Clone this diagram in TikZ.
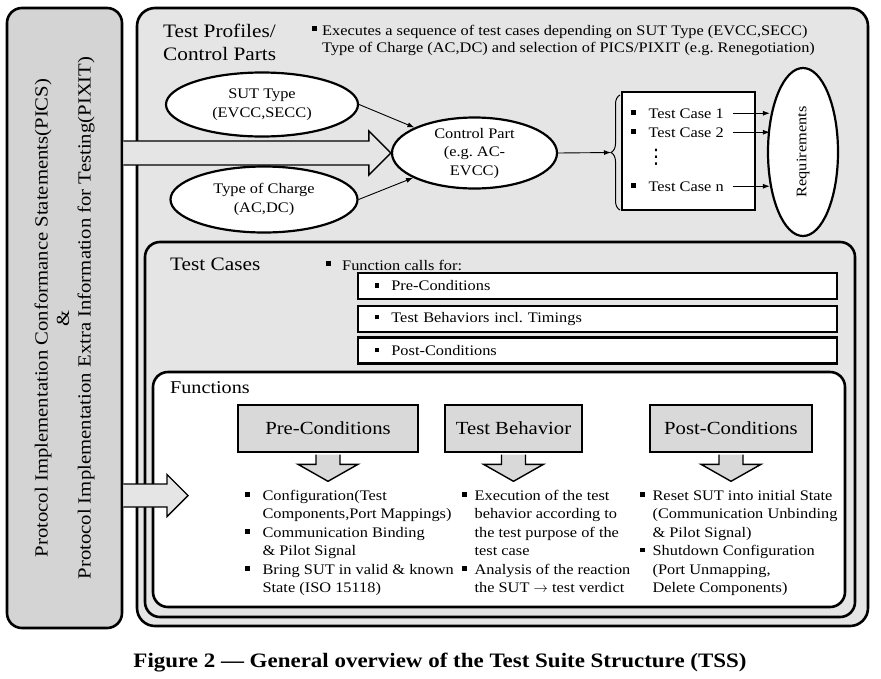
\documentclass[tikz,border=0pt]{standalone}
\usepackage{fontspec}
\setmainfont{Liberation Serif}[FakeStretch=1.12]
\newfontfamily\dejavu{DejaVu Sans}
\usetikzlibrary{shapes.geometric,arrows.meta,decorations.pathreplacing,calc}
\newcommand\sqb{\rule[0.22em]{0.3em}{0.3em}}
\newcommand\fs[2]{\fontsize{#1}{#2}\selectfont}
\begin{document}
\frenchspacing
\begin{tikzpicture}[x=1pt,y=-1pt,
  stip/.style={fill=black!10},
  stipd/.style={fill=black!17},
  stiph/.style={fill=black!15},
  bigbox/.style={draw, line width=2.6pt, rounded corners=18pt, inner sep=0pt},
  ell/.style={ellipse, draw, line width=2.2pt, fill=white, inner sep=0pt},
  etxt/.style={align=center, inner sep=0pt, font=\fs{14.6}{18.5}},
  conn/.style={-{Latex[length=7pt,width=5pt]}, line width=0.9pt},
  txt/.style={inner sep=0pt, anchor=base west, font=\fs{14.6}{18.5}},
  head/.style={inner sep=0pt, anchor=base west, font=\fs{19}{23}},
  callbox/.style={draw, line width=2.6pt, fill=white, minimum height=26pt, text width=445pt, inner xsep=17pt, inner ysep=0pt, align=left, font=\fs{14.6}{18}},
  hdr/.style={draw, line width=2.6pt, stiph, minimum height=47pt, inner sep=0pt, font=\fs{18.5}{20}},
  blockarrow/.style={draw, line width=1.4pt, line join=miter},
]
\fill[white] (0,0) rectangle (881,678);
\useasboundingbox (0,0) rectangle (881,678);

% containers
\node[bigbox, stipd, minimum width=115pt, minimum height=620pt, rounded corners=15pt] (pics) at (64.5,318) {};
\node[bigbox, stip, minimum width=731pt, minimum height=618pt] (tp) at (502.5,317) {};
\node[bigbox, stip, minimum width=710pt, minimum height=375pt, rounded corners=15pt] (tcs) at (500,429.5) {};
\node[bigbox, fill=white, minimum width=692pt, minimum height=235pt, rounded corners=15pt] (fun) at (499,489.5) {};

\node[font=\fs{18.5}{21.5}, align=center, rotate=90, inner sep=0pt] (picst) at (pics.center)
  {Protocol Implementation Conformance Statements(PICS)\\\&\\Protocol Implementation Extra Information for Testing(PIXIT)};

% top part
\node[head] (tp1) at (163,37) {Test Profiles/};
\node[head] (tp2) at (163,60) {Control Parts};
\node[txt] (exb) at (312,34) {\sqb};
\node[txt] (ex1) at (322,35) {Executes a sequence of test cases depending on SUT Type (EVCC,SECC)};
\node[txt] (ex2) at (322,52) {Type of Charge (AC,DC) and selection of PICS/PIXIT (e.g. Renegotiation)};

\node[ell, minimum width=192pt, minimum height=64pt] (sut) at (262,104.5) {};
\node[etxt] (sutt) at (sut.center) {SUT Type\\(EVCC,SECC)};
\node[ell, minimum width=187pt, minimum height=66pt] (toc) at (264,199.5) {};
\node[etxt] (toct) at (toc.center) {Type of Charge\\(AC,DC)};
\node[ell, minimum width=165pt, minimum height=71pt] (cp) at (474.5,153) {};
\node[etxt] (cpt) at (cp.center) {Control Part\\(e.g. AC-\\EVCC)};

% big arrow PICS -> Control Part
\coordinate (a1tip) at (cp.west);
\filldraw[blockarrow, stip] ($(pics.east |- a1tip)+(0,-12)$) -- ($(a1tip)+(-22,-12)$) -- ($(a1tip)+(-22,-22)$) -- (a1tip)
  -- ($(a1tip)+(-22,22)$) -- ($(a1tip)+(-22,12)$) -- ($(pics.east |- a1tip)+(0,12)$);

\draw[conn] (sut.east) -- (cp.157);
\draw[conn] (toc.east) -- (cp.202);

% brace and test case list
\coordinate (bt) at (611,152.5);
\draw[conn] (cp.east) -- (bt);
\draw[line width=1pt, decorate, decoration={brace, amplitude=9pt, mirror}] (620,95) -- (620,210);
\node[draw, line width=2.6pt, fill=white, minimum width=133pt, minimum height=118pt] (tcbox) at (688.5,151) {};
\node[txt] (tc1) at (631,118) {\sqb\hspace{13pt}Test Case 1};
\node[txt] (tc2) at (631,137) {\sqb\hspace{13pt}Test Case 2};
\node[inner sep=0pt, font=\dejavu\fs{20}{22}] (tcd) at (656,157) {⋮};
\node[txt] (tcn) at (631,191) {\sqb\hspace{13pt}Test Case n};

\node[ell, minimum width=70pt, minimum height=168pt] (req) at (803,152) {};
\node[etxt] (reqt) at (req.center) {\rotatebox{90}{Requirements}};
\foreach \t in {tc1,tc2,tcn}
  \draw[conn, shorten <=9pt, shorten >=-3pt] (\t.east) -- (\t.east -| req.west);

% test cases
\node[head] (tch) at (170,270) {Test Cases};
\node[txt] (fcb) at (326,269) {\sqb};
\node[txt] (fc) at (342,270) {Function calls for:};
\node[callbox] (c1) at (597.5,286) {\sqb\hspace{12pt}Pre-Conditions};
\node[callbox] (c2) at (597.5,319) {\sqb\hspace{12pt}Test Behaviors incl. Timings};
\node[callbox] (c3) at (597.5,350.5) {\sqb\hspace{12pt}Post-Conditions};

% functions
\node[head, font=\fs{18}{22}] (fh) at (170,393) {Functions};
\node[hdr, minimum width=180pt] (hpre) at (328,428.5) {Pre-Conditions};
\node[hdr, minimum width=137pt] (htb) at (513.5,428.5) {Test Behavior};
\node[hdr, minimum width=162pt] (hpost) at (731,428.5) {Post-Conditions};
\foreach \h in {hpre,htb,hpost}
  \filldraw[blockarrow, stiph] ($(\h.south)+(-12,1.3)$) -- ($(\h.south)+(-12,11)$) -- ($(\h.south)+(-30,11)$)
    -- ($(\h.south)+(0,28)$) -- ($(\h.south)+(30,11)$) -- ($(\h.south)+(12,11)$) -- ($(\h.south)+(12,1.3)$);

\node[txt] (col1) at (245,500) {\begin{tabular}[t]{@{}l@{\hspace{13pt}}l@{}}
  \sqb & Configuration(Test\\ & Components,Port Mappings)\\
  \sqb & Communication Binding\\ & \& Pilot Signal\\
  \sqb & Bring SUT in valid \& known\\ & State (ISO 15118)\end{tabular}};
\node[txt] (col2) at (462,500) {\begin{tabular}[t]{@{}l@{\hspace{8pt}}l@{}}
  \sqb & Execution of the test\\ & behavior according to\\ & the test purpose of the\\ & test case\\
  \sqb & Analysis of the reaction\\ & the SUT $\rightarrow$ test verdict\end{tabular}};
\node[txt] (col3) at (640,500) {\begin{tabular}[t]{@{}l@{\hspace{8pt}}l@{}}
  \sqb & Reset SUT into initial State\\ & (Communication Unbinding\\ & \& Pilot Signal)\\
  \sqb & Shutdown Configuration\\ & (Port Unmapping,\\ & Delete Components)\end{tabular}};

% big arrow PICS -> Functions
\coordinate (a2tip) at (188,495.5);
\filldraw[blockarrow, stip] ($(pics.east |- a2tip)+(0,-11.5)$) -- ($(a2tip)+(-21,-11.5)$) -- ($(a2tip)+(-21,-21)$) -- (a2tip)
  -- ($(a2tip)+(-21,21)$) -- ($(a2tip)+(-21,11.5)$) -- ($(pics.east |- a2tip)+(0,11.5)$);

% caption
\node[font=\bfseries\fs{20.5}{24}, inner sep=0pt] (cap) at (440,663) {Figure 2 --- General overview of the Test Suite Structure (TSS)};
\end{tikzpicture}
\end{document}
